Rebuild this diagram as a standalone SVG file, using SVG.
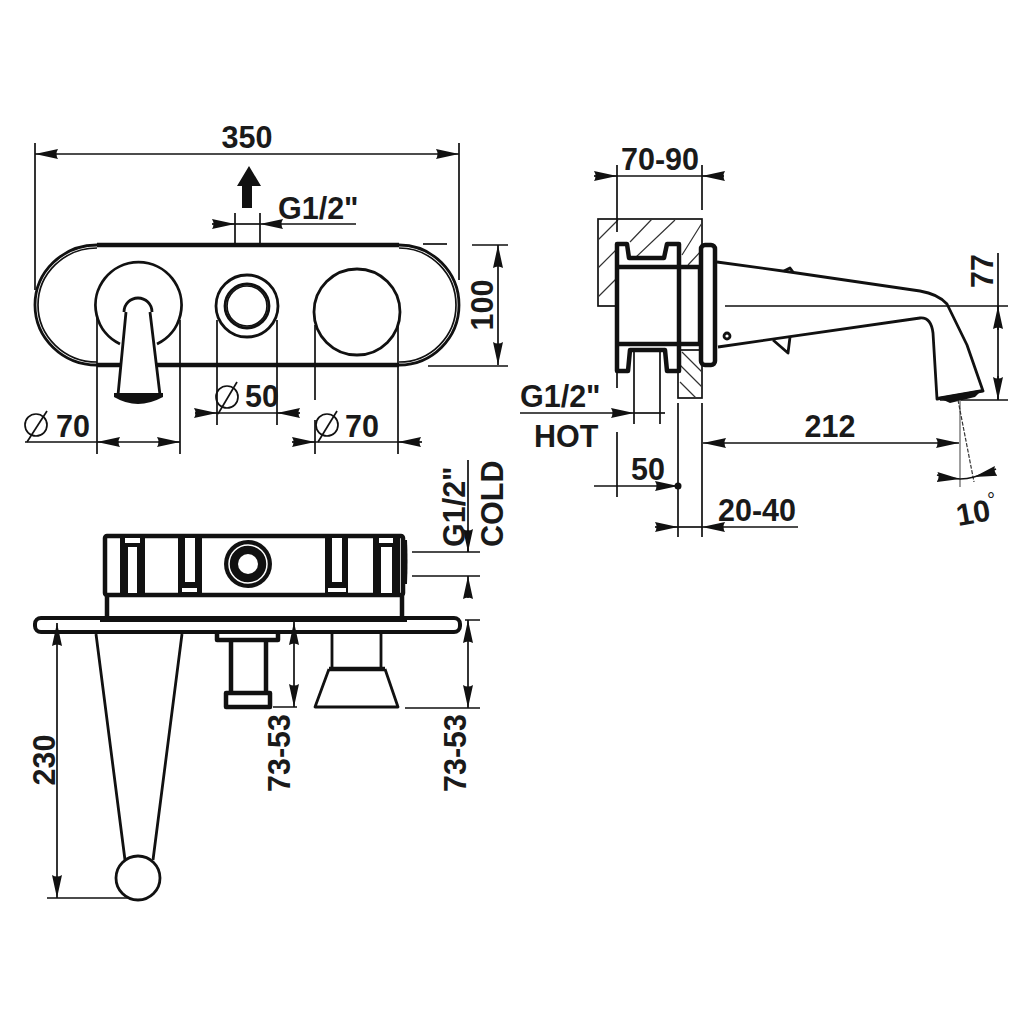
<svg xmlns="http://www.w3.org/2000/svg" width="1024" height="1024" viewBox="0 0 1024 1024">
<style>
.t{font-family:"Liberation Sans",Arial,sans-serif;font-weight:bold;font-size:30.5px;fill:#1a1a1a}
.m{text-anchor:middle}
.d{fill:none;stroke:#111;stroke-width:1.7}
.dim{fill:none;stroke:#111;stroke-width:1.7;marker-end:url(#a)}
.both{fill:none;stroke:#111;stroke-width:1.7;marker-start:url(#a2);marker-end:url(#a)}
.o{fill:none;stroke:#111;stroke-width:2.8;stroke-linejoin:round}
.h{fill:none;stroke:#111;stroke-width:4.5;stroke-linejoin:round}
.k{fill:#111;stroke:none}
.w{fill:#fff;stroke:none}
.hat{fill:none;stroke:#333;stroke-width:1.2}
</style>
<defs>
<marker id="a" markerUnits="userSpaceOnUse" markerWidth="24" markerHeight="13" refX="23" refY="6.5" orient="auto"><path d="M0 1.500L23 6.500L0 11.500Q3 6.500 0 1.500Z" fill="#111"/></marker>
<marker id="a2" markerUnits="userSpaceOnUse" markerWidth="24" markerHeight="13" refX="23" refY="6.500" orient="auto-start-reverse"><path d="M0 1.500L23 6.500L0 11.500Q3 6.500 0 1.500Z" fill="#111"/></marker>
</defs>
<rect width="1024" height="1024" fill="#fff"/>

<g id="front-view">
<path class="o" d="M97 245A62 60 0 0 0 97 365M399 245A60 60 0 0 1 399 365"/>
<path class="d" d="M97 248A59 57 0 0 0 97 362M399 248A57 57 0 0 1 399 362"/>
<path class="h" d="M97 245H399M97 365H399"/>
<path class="o" d="M120 344A43 43 0 1 1 157 344"/>
<path class="w" d="M122 362L135 300H142L155 362L162 392H116Z"/>
<path class="o" d="M124 312A14 14 0 1 1 152 312M126 312L118 395M150 312L160 395" fill="#fff"/>
<path class="k" d="M114 393H163V397Q150 404 138 404Q126 404 114 397Z"/>
<circle class="o" cx="247" cy="306" r="31"/>
<circle class="o" cx="247" cy="306" r="22"/>
<circle class="d" cx="247" cy="306" r="20"/>
<circle class="o" cx="357" cy="312" r="43"/>
</g>

<g id="side-view">
<rect class="d" x="598" y="219" width="104" height="87"/>
<path class="hat" d="M598 240L618 220M598 268L618 248M598 297L618 277M630 242L652 219M635 258L675 220M682 255L702 223M688 265L702 250"/>
<rect class="d" x="678" y="350" width="24" height="48"/>
<path class="hat" d="M682 352L702 372M680 365L702 387M680 382L696 398"/>
<path class="w" d="M617 267H700V344H617Z"/>
<path class="h" d="M617 371V244H627L629 258H664L667 244H679V371H667L665 350H630L628 371Z"/>
<path class="h" d="M617 267H700M617 344H700"/>
<path class="h" d="M700 267V344"/>
<rect class="h" x="701" y="245" width="14" height="120" rx="4" fill="#fff"/>
<path class="o" d="M717 262L790 272L920 291Q938 294 947 304L967 345L983 391L937 399L933 333Q931 317 920 318L718 347"/>
<path class="o" d="M773 340L788 353L790 337M784 271L790 268L793 272"/>
<path class="k" d="M937 397L983 389L975 397L950 403Z"/>
<circle class="o" cx="727" cy="336" r="3"/>
</g>

<g id="top-view">
<rect x="105" y="536" width="298" height="59" rx="2" fill="#fff" stroke="#111" stroke-width="4.500"/>
<path class="h" d="M107 595V617M402 595V617"/>
<path class="k" d="M403 540H407Q408 560 407 584H403Z"/>
<path class="k" d="M120 536H145V595H120ZM178 536H202V595H178ZM325 536H348V595H325ZM373 536H400V595H373Z"/>
<path class="w" d="M125 538H140V543H125ZM128 547H137V593H128ZM185 538H195V582H185ZM182 588H197V592H182ZM332 538H342V582H332ZM328 588H346V592H328ZM379 538H393V543H379ZM381 547H392V593H381Z"/>
<circle class="k" cx="248" cy="564" r="24"/>
<circle cx="248" cy="564" r="19" fill="none" stroke="#fff" stroke-width="1.500"/>
<circle class="w" cx="248" cy="564" r="10"/>
<rect x="35" y="618" width="425" height="14" rx="6" fill="#fff" stroke="#111" stroke-width="4"/>
<rect class="k" x="100" y="616" width="307" height="6"/>
<path class="h" d="M217 633V640H278V633" stroke-width="3.500"/>
<path class="h" d="M231 641V693M266 641V693"/>
<rect class="h" x="226" y="693" width="44" height="14"/>
<path class="o" d="M332 633V669M381 633V669"/>
<path class="h" d="M329 669H385"/>
<path class="o" d="M329 669L315 707H398L385 669" stroke-width="3"/>
<path class="o" d="M96 634L125 860M182 634L153 860"/>
<circle class="o" cx="138" cy="878" r="22"/>
<path class="k" d="M242 208H252V186H261L249 166L237 186H242Z"/>
</g>

<g id="connectors">
<path class="both" d="M35 154H459"/>
<path class="d" d="M35 143V290M459 143V280"/>
<path class="dim" d="M212 224H235"/><path class="dim" d="M356 224H260"/><path class="d" d="M235 224H260"/>
<path class="d" d="M235 213V245M260 213V245"/>
<path class="d" d="M423 244H447"/>
<path class="both" d="M498 245V365"/>
<path class="d" d="M472 245H508M428 366H508"/>
<path class="d" d="M97 316V454M180 320V454M25 442H97"/>
<path class="dim" d="M119 442H97"/><path class="dim" d="M158 442H180"/><path class="d" d="M119 442H158"/>
<path class="d" d="M217 320V425M277 320V425"/>
<path class="dim" d="M195 413H217"/><path class="dim" d="M300 413H277"/><path class="d" d="M217 413H277"/>
<path class="d" d="M315 325V400M315 420V454M398 325V454"/>
<path class="dim" d="M292 442H315"/><path class="dim" d="M422 442H398"/><path class="d" d="M315 442H398"/>
<circle class="d" cx="36" cy="425" r="11"/><path class="d" d="M27 442L47 411"/>
<circle class="d" cx="227" cy="397" r="11"/><path class="d" d="M218 414L237 382"/>
<circle class="d" cx="327" cy="425" r="11"/><path class="d" d="M318 442L337 411"/>

<path class="d" d="M617 165V232M702 165V210"/>
<path class="dim" d="M594 176H617"/><path class="dim" d="M724 176H702"/><path class="d" d="M617 176H702"/>
<path class="d" d="M725 306H1008M940 400H1008M998 253V400"/>
<path class="dim" d="M998 330V306"/><path class="dim" d="M998 376V400"/>
<path class="d" d="M617 372V388M617 432V497M634 350V424M660 350V424M678 403V537M702 403V537"/>
<path class="dim" d="M520 413H634"/><path class="d" d="M634 413H665"/>
<path class="dim" d="M594 486H678"/>
<circle class="k" cx="678" cy="486" r="3.500"/>
<path class="dim" d="M655 527H678"/><path class="dim" d="M798 527H702"/><path class="d" d="M678 527H702"/>
<path class="both" d="M703 443H959"/>
<path d="M960 400V487" fill="none" stroke="#777" stroke-width="1.400"/>
<path d="M958 400L974 482" fill="none" stroke="#333" stroke-width="1.200" stroke-dasharray="4 1.500"/>
<path class="dim" d="M937 475Q948 478 960 479"/><path class="dim" d="M996 469Q985 474 974 477"/><path class="d" d="M960 479Q967 479 974 477"/>

<path class="d" d="M412 552H480M412 576H480M468 460V552"/>
<path class="dim" d="M468 530V552"/><path class="dim" d="M468 598V576"/>
<path class="d" d="M465 620H480M405 708H480M273 707H297M47 898H130"/>
<path class="both" d="M468 620V708"/>
<path class="both" d="M294 622V707"/>
<path class="both" d="M57 623V898"/>
</g>

<g id="labels">
<text class="t m" x="247" y="148">350</text>
<text class="t" x="278" y="219">G1/2"</text>
<text class="t m" transform="translate(493 305) rotate(-90)">100</text>
<text class="t" x="56" y="437">70</text>
<text class="t" x="245" y="407">50</text>
<text class="t" x="345" y="437">70</text>
<text class="t m" x="660" y="170">70-90</text>
<text class="t m" transform="translate(993 271) rotate(-90)">77</text>
<text class="t" x="520" y="407">G1/2"</text>
<text class="t" x="534" y="447">HOT</text>
<text class="t m" x="648" y="480">50</text>
<text class="t m" x="830" y="437">212</text>
<text class="t" x="718" y="521">20-40</text>
<text class="t m" transform="translate(975 523) rotate(-10)">10</text>
<text class="t" x="987" y="507" style="font-size:20px;font-weight:normal">°</text>
<text class="t" transform="translate(465 547) rotate(-90)">G1/2"</text>
<text class="t" transform="translate(503 547) rotate(-90)">COLD</text>
<text class="t" transform="translate(466 792) rotate(-90)">73-53</text>
<text class="t" transform="translate(290 792) rotate(-90)">73-53</text>
<text class="t m" transform="translate(55 760) rotate(-90)">230</text>
</g>
</svg>
